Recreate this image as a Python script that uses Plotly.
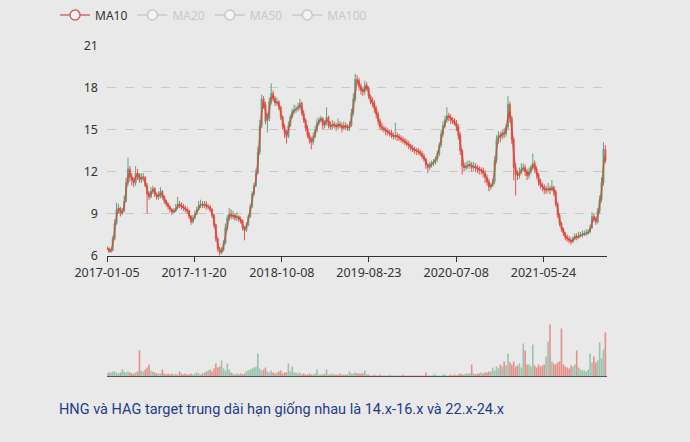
import pandas as pd
import plotly.graph_objects as go

# ---------------- data (weekly candles) ----------------
start_date = "2017-01-05"

close = [
    6.5, 6.3, 6.4, 7.2, 8.3, 9.3, 9.4, 9.0, 9.2, 9.9,
    11.2, 12.2, 11.6, 11.4, 11.2, 11.9, 11.8, 11.4, 11.6, 11.6,
    11.0, 10.4, 10.2, 10.6, 10.8, 10.4, 10.2, 10.3, 10.6, 10.2,
    9.9, 9.7, 9.5, 9.3, 9.1, 9.2, 9.4, 9.7, 9.6, 9.5,
    9.4, 9.3, 9.2, 8.8, 8.4, 8.7, 9.0, 9.3, 9.6, 9.7,
    9.6, 9.7, 9.5, 9.5, 9.3, 8.9, 8.2, 7.2, 6.5, 6.2,
    6.4, 6.9, 8.0, 8.7, 9.0, 8.8, 8.9, 8.7, 8.8, 8.6,
    8.5, 8.0, 7.8, 8.2, 8.8, 9.5, 10.4, 11.0, 11.9, 13.4,
    15.3, 17.2, 16.8, 15.6, 15.8, 17.0, 17.6, 17.2, 16.9, 17.0,
    16.6, 15.9, 15.2, 14.8, 14.5, 15.3, 15.9, 16.3, 16.4, 16.5,
    16.6, 16.9, 16.2, 15.7, 15.1, 14.6, 14.3, 14.1, 14.5, 15.0,
    15.5, 15.7, 15.8, 15.3, 15.5, 15.9, 15.3, 15.2, 15.4, 15.3,
    15.2, 15.4, 15.3, 15.1, 15.3, 15.2, 15.1, 15.3, 16.2, 17.2,
    18.6, 18.5, 18.1, 17.8, 17.7, 18.2, 18.0, 17.4, 17.0, 16.9,
    16.5, 16.1, 15.6, 15.2, 15.1, 15.0, 14.9, 14.8, 14.8, 14.6,
    14.5, 14.6, 14.5, 14.4, 14.3, 14.2, 14.1, 14.0, 13.9, 13.7,
    13.6, 13.5, 13.5, 13.4, 13.3, 13.1, 12.9, 12.5, 12.3, 12.5,
    12.6, 12.7, 12.9, 13.3, 13.9, 14.7, 15.3, 15.7, 16.0, 15.9,
    15.7, 15.6, 15.5, 15.2, 14.6, 13.5, 12.4, 12.3, 12.4, 12.5,
    12.5, 12.3, 12.4, 12.3, 12.2, 12.1, 12.1, 11.9, 11.6, 11.3,
    10.9, 11.0, 11.3, 12.8, 14.3, 14.6, 14.5, 14.8, 14.7, 15.2,
    16.8, 15.8, 14.3, 12.3, 11.8, 11.7, 12.0, 12.2, 12.3, 12.0,
    11.7, 12.0, 12.3, 12.6, 12.2, 11.8, 11.3, 11.0, 10.9, 10.7,
    10.7, 10.8, 10.7, 10.9, 10.6, 9.7, 8.9, 8.3, 7.9, 7.6,
    7.3, 7.2, 7.1, 7.0, 7.2, 7.4, 7.3, 7.4, 7.5, 7.5,
    7.6, 7.6, 7.7, 8.0, 8.8, 8.6, 8.4, 9.2, 10.0, 11.2,
    13.6, 12.8,
]

open_ = [
    6.6, 6.5, 6.3, 6.4, 7.2, 8.3, 9.3, 9.4, 9.0, 9.2,
    9.9, 11.2, 12.2, 11.6, 11.4, 11.2, 11.9, 11.8, 11.4, 11.6,
    11.6, 11.0, 10.4, 10.2, 10.6, 10.8, 10.4, 10.2, 10.3, 10.6,
    10.2, 9.9, 9.7, 9.5, 9.3, 9.1, 9.2, 9.4, 9.7, 9.6,
    9.5, 9.4, 9.3, 9.2, 8.8, 8.4, 8.7, 9.0, 9.3, 9.6,
    9.7, 9.6, 9.7, 9.5, 9.5, 9.3, 8.9, 8.2, 7.2, 6.5,
    6.2, 6.4, 6.9, 8.0, 8.7, 9.0, 8.8, 8.9, 8.7, 8.8,
    8.6, 8.5, 8.0, 7.8, 8.2, 8.8, 9.5, 10.4, 11.0, 11.9,
    13.4, 15.3, 17.2, 16.8, 15.6, 15.8, 17.0, 17.6, 17.2, 16.9,
    17.0, 16.6, 15.9, 15.2, 14.8, 14.5, 15.3, 15.9, 16.3, 16.4,
    16.5, 16.6, 16.9, 16.2, 15.7, 15.1, 14.6, 14.3, 14.1, 14.5,
    15.0, 15.5, 15.7, 15.8, 15.3, 15.5, 15.9, 15.3, 15.2, 15.4,
    15.3, 15.2, 15.4, 15.3, 15.1, 15.3, 15.2, 15.1, 15.3, 16.2,
    17.2, 18.6, 18.5, 18.1, 17.8, 17.7, 18.2, 18.0, 17.4, 17.0,
    16.9, 16.5, 16.1, 15.6, 15.2, 15.1, 15.0, 14.9, 14.8, 14.8,
    14.6, 14.5, 14.6, 14.5, 14.4, 14.3, 14.2, 14.1, 14.0, 13.9,
    13.7, 13.6, 13.5, 13.5, 13.4, 13.3, 13.1, 12.9, 12.5, 12.3,
    12.5, 12.6, 12.7, 12.9, 13.3, 13.9, 14.7, 15.3, 15.7, 16.0,
    15.9, 15.7, 15.6, 15.5, 15.2, 14.6, 13.5, 12.4, 12.3, 12.4,
    12.5, 12.5, 12.3, 12.4, 12.3, 12.2, 12.1, 12.1, 11.9, 11.6,
    11.3, 10.9, 11.0, 11.3, 12.8, 14.3, 14.6, 14.5, 14.8, 14.7,
    15.2, 16.8, 15.8, 14.3, 12.3, 11.8, 11.7, 12.0, 12.2, 12.3,
    12.0, 11.7, 12.0, 12.3, 12.6, 12.2, 11.8, 11.3, 11.0, 10.9,
    10.7, 10.7, 10.8, 10.7, 10.9, 10.6, 9.7, 8.9, 8.3, 7.9,
    7.6, 7.3, 7.2, 7.1, 7.0, 7.2, 7.4, 7.3, 7.4, 7.5,
    7.5, 7.6, 7.6, 7.7, 8.0, 8.8, 8.6, 8.4, 9.2, 10.0,
    11.2, 13.6,
]

high = [
    6.7, 6.6, 6.5, 7.4, 8.6, 9.8, 9.7, 9.5, 9.4, 10.3,
    11.6, 13.0, 12.4, 11.9, 11.6, 12.4, 12.2, 11.9, 11.9, 11.9,
    11.7, 11.2, 10.6, 10.9, 11.0, 10.9, 10.5, 10.6, 10.9, 10.7,
    10.3, 10.0, 9.8, 9.6, 9.4, 9.4, 9.7, 10.2, 9.9, 9.8,
    9.7, 9.6, 9.5, 9.3, 8.9, 8.9, 9.2, 9.5, 9.9, 10.0,
    9.9, 9.9, 9.9, 9.7, 9.6, 9.4, 9.0, 8.3, 7.3, 6.6,
    6.6, 7.1, 8.3, 8.9, 9.4, 9.3, 9.2, 9.0, 9.1, 8.9,
    8.8, 8.6, 8.1, 8.4, 9.0, 9.7, 10.6, 11.2, 12.2, 13.8,
    15.7, 17.5, 17.4, 17.0, 16.2, 17.3, 18.3, 17.8, 17.4, 17.3,
    17.1, 16.7, 16.0, 15.4, 15.0, 15.6, 16.1, 16.5, 16.8, 16.7,
    16.9, 17.2, 17.0, 16.4, 15.8, 15.3, 14.8, 14.5, 14.8, 15.3,
    15.8, 15.9, 16.0, 15.9, 15.7, 16.6, 16.0, 15.6, 15.7, 15.6,
    15.5, 15.8, 15.6, 15.5, 15.6, 15.5, 15.4, 15.6, 16.5, 17.6,
    19.0, 18.9, 18.7, 18.3, 18.0, 18.5, 18.4, 18.1, 17.5, 17.3,
    17.1, 16.7, 16.3, 15.8, 15.5, 15.3, 15.2, 15.1, 15.0, 15.0,
    14.8, 15.5, 14.8, 14.7, 14.6, 14.5, 14.4, 14.3, 14.2, 14.0,
    13.9, 13.8, 13.7, 13.7, 13.6, 13.5, 13.3, 13.0, 12.6, 12.7,
    12.8, 12.9, 13.1, 13.5, 14.1, 15.0, 15.6, 16.0, 16.6, 16.2,
    16.1, 15.9, 15.8, 15.7, 15.4, 14.8, 13.6, 12.6, 12.7, 12.8,
    12.8, 12.7, 12.7, 12.6, 12.5, 12.4, 12.3, 12.3, 12.1, 11.8,
    11.5, 11.2, 11.5, 13.1, 14.6, 14.9, 14.8, 15.0, 15.1, 15.4,
    17.4, 17.0, 16.0, 14.5, 12.6, 12.1, 12.3, 12.6, 12.6, 12.5,
    12.2, 12.3, 12.5, 13.3, 12.8, 12.4, 11.9, 11.5, 11.2, 11.1,
    11.0, 11.2, 11.0, 11.4, 11.0, 10.7, 9.8, 9.0, 8.4, 8.0,
    7.7, 7.5, 7.4, 7.3, 7.4, 7.6, 7.6, 7.7, 7.7, 7.8,
    7.8, 7.9, 7.9, 8.2, 9.1, 9.0, 8.8, 9.4, 10.3, 11.6,
    14.1, 13.9,
]

low = [
    6.4, 6.2, 6.2, 6.3, 7.1, 8.2, 9.0, 8.8, 8.9, 9.1,
    9.8, 11.0, 11.3, 11.0, 10.9, 11.0, 11.4, 11.2, 11.2, 11.3,
    10.9, 9.0, 10.0, 10.1, 10.4, 10.2, 10.0, 10.0, 10.1, 10.0,
    9.7, 9.5, 9.3, 9.1, 8.9, 9.0, 9.1, 9.3, 9.4, 9.3,
    9.2, 9.1, 9.0, 8.6, 8.2, 8.3, 8.6, 8.9, 9.2, 9.4,
    9.4, 9.4, 9.3, 9.3, 9.1, 8.7, 8.0, 7.0, 6.3, 6.0,
    6.1, 6.3, 6.8, 7.8, 8.5, 8.6, 8.6, 8.5, 8.5, 8.4,
    8.3, 7.8, 7.1, 7.7, 8.1, 8.7, 9.4, 10.3, 10.9, 11.8,
    13.2, 15.1, 16.5, 15.4, 14.8, 15.6, 16.8, 17.0, 16.7, 16.7,
    16.4, 15.7, 15.0, 14.4, 14.0, 14.4, 15.2, 15.8, 16.1, 16.2,
    16.3, 16.4, 16.0, 15.5, 14.9, 14.4, 14.0, 13.6, 13.9, 14.4,
    14.8, 15.3, 15.5, 15.0, 15.1, 15.3, 15.1, 15.0, 15.0, 15.1,
    14.9, 15.0, 15.1, 14.8, 15.0, 15.0, 14.9, 14.9, 15.2, 16.0,
    17.0, 18.2, 17.8, 17.5, 17.4, 17.5, 17.8, 17.2, 16.8, 16.6,
    16.2, 15.8, 15.3, 15.0, 14.9, 14.8, 14.6, 14.6, 14.5, 14.4,
    14.3, 14.3, 14.2, 14.2, 14.1, 14.0, 13.9, 13.8, 13.6, 13.5,
    13.4, 13.3, 13.2, 13.2, 13.1, 12.9, 12.7, 12.2, 11.9, 12.1,
    12.3, 12.4, 12.5, 12.7, 13.1, 13.7, 14.5, 15.1, 15.5, 15.6,
    15.4, 15.4, 15.3, 14.9, 14.3, 13.2, 11.8, 12.0, 12.1, 12.2,
    12.2, 12.0, 12.1, 12.0, 11.9, 11.8, 11.8, 11.6, 11.2, 11.0,
    10.6, 10.7, 10.9, 11.1, 12.6, 14.0, 14.1, 14.3, 14.4, 14.5,
    15.0, 15.5, 14.0, 11.4, 10.3, 11.4, 11.5, 11.8, 12.0, 11.7,
    11.4, 11.5, 11.8, 12.1, 11.9, 11.5, 11.0, 10.8, 10.6, 10.4,
    10.4, 10.5, 10.4, 10.6, 10.3, 9.5, 8.7, 8.1, 7.7, 7.4,
    7.1, 7.0, 6.9, 6.8, 6.9, 7.1, 7.1, 7.2, 7.3, 7.3,
    7.4, 7.4, 7.5, 7.6, 7.9, 8.4, 8.2, 8.3, 9.0, 9.8,
    11.0, 12.6,
]

volume = [
    3, 4, 4, 5, 5, 4, 3, 4, 7, 5,
    4, 5, 4, 3, 3, 4, 5, 26, 6, 5,
    7, 9, 12, 6, 5, 4, 3, 3, 3, 7,
    3, 2, 3, 2, 3, 2, 3, 2, 5, 3,
    2, 3, 2, 2, 3, 2, 3, 4, 3, 2,
    3, 4, 5, 6, 7, 5, 8, 13, 9, 10,
    16, 8, 6, 13, 7, 4, 3, 2, 3, 2,
    3, 2, 3, 5, 6, 7, 8, 9, 10, 23,
    8, 6, 7, 9, 5, 4, 6, 4, 3, 4,
    5, 6, 3, 4, 4, 13, 5, 10, 4, 4,
    3, 4, 2, 3, 2, 2, 3, 2, 2, 3,
    7, 2, 2, 2, 3, 7, 2, 2, 3, 2,
    2, 2, 3, 2, 2, 2, 2, 5, 3, 3,
    4, 3, 3, 3, 3, 6, 2, 2, 1, 1,
    2, 1, 1, 2, 1, 1, 1, 1, 2, 1,
    1, 1, 1, 1, 1, 2, 1, 1, 1, 1,
    1, 1, 1, 1, 1, 1, 1, 4, 1, 1,
    1, 2, 2, 1, 1, 1, 2, 2, 1, 1,
    2, 1, 2, 1, 2, 3, 2, 2, 3, 3,
    3, 12, 3, 2, 3, 3, 4, 3, 4, 4,
    5, 5, 9, 6, 10, 8, 12, 10, 15, 11,
    23, 14, 12, 15, 10, 11, 13, 9, 33, 26,
    12, 12, 10, 32, 11, 9, 12, 10, 11, 12,
    20, 35, 52, 15, 13, 12, 14, 15, 48, 12,
    10, 9, 8, 11, 10, 12, 26, 9, 7, 6,
    6, 5, 7, 23, 14, 20, 14, 16, 34, 18,
    27, 44,
]

tick_labels = ["2017-01-05", "2017-11-20", "2018-10-08",
               "2019-08-23", "2020-07-08", "2021-05-24"]
axis_end = "2022-01-12"
price_ticks = [6, 9, 12, 15, 18, 21]
ma_names = ["MA10", "MA20", "MA50", "MA100"]
ma_days = [10, 20, 50, 100]
caption = "HNG và HAG target trung dài hạn giống nhau là 14.x-16.x và 22.x-24.x"

# ---------------- build ----------------
n = len(close)
assert len(open_) == n and len(high) == n and len(low) == n and len(volume) == n
dates = pd.date_range(start_date, periods=n, freq="7D")
df = pd.DataFrame({"date": dates, "open": open_, "high": high,
                   "low": low, "close": close, "volume": volume})

UP = "#5aa67c"
DOWN = "#e2574c"
BG = "#e9e9e9"
FONT = "Noto Sans"

fig = go.Figure()

fig.add_trace(go.Candlestick(
    x=df["date"], open=df["open"], high=df["high"], low=df["low"], close=df["close"],
    increasing=dict(line=dict(color=UP, width=1), fillcolor=UP),
    decreasing=dict(line=dict(color=DOWN, width=1), fillcolor=DOWN),
    whiskerwidth=0, showlegend=False, name="K",
))

ma_colors = ["#d9453c", "#aaaaaa", "#aaaaaa", "#aaaaaa"]
for name, days, col in zip(ma_names, ma_days, ma_colors):
    win = max(1, days // 5)  # weekly candles: 5 trading days per candle
    ma = df["close"].rolling(win, min_periods=1).mean()
    active = name == "MA10"
    fig.add_trace(go.Scatter(
        x=df["date"], y=ma, mode="lines+markers",
        name=name if active else f"<span style='color:#a8a8a8'>{name}</span>",
        line=dict(color=col, width=1.4),
        marker=dict(size=10, color="white", line=dict(color=col, width=1.5)),
        selectedpoints=[], unselected=dict(marker=dict(opacity=0)),
        opacity=0.85 if active else 1,
        visible=True if active else "legendonly",
    ))

vol_colors = ["rgba(90,166,124,0.55)" if c >= o else "rgba(226,87,76,0.6)"
              for o, c in zip(df["open"], df["close"])]
fig.add_trace(go.Bar(
    x=df["date"], y=df["volume"], marker=dict(color=vol_colors, line=dict(width=0)),
    xaxis="x2", yaxis="y2", showlegend=False, name="Volume",
))

W, H = 690, 442
x0, x1 = 107 / W, 607 / W
fig.update_layout(
    width=W, height=H, autosize=False,
    margin=dict(l=0, r=0, t=0, b=0, autoexpand=False),
    paper_bgcolor=BG, plot_bgcolor=BG,
    font=dict(family=FONT, size=12.5, color="#333"),
    bargap=0.15,
    showlegend=True,
    legend=dict(orientation="h", x=55 / W, xanchor="left", y=1 - 15 / H, yanchor="middle",
                bgcolor="rgba(0,0,0,0)", font=dict(size=12, color="#333"),
                itemclick=False),
    xaxis=dict(domain=[x0, x1], type="date", range=[start_date, axis_end],
               tickvals=tick_labels, ticktext=tick_labels, automargin=False,
               showgrid=False, showline=True, linecolor="#333", linewidth=1,
               ticks="outside", ticklen=5, tickcolor="#333",
               rangeslider=dict(visible=False), anchor="y", zeroline=False),
    yaxis=dict(domain=[1 - 255.7 / H, 1 - 45.7 / H], range=[6, 21], automargin=False,
               tickvals=price_ticks, showgrid=True, gridcolor="#c9c9c9",
               griddash="dash", gridwidth=1, zeroline=False, showline=False,
               ticks="", ticklabelstandoff=8, anchor="x"),
    xaxis2=dict(domain=[x0, x1], type="date", range=[start_date, axis_end],
                matches="x", showticklabels=False, ticks="", showgrid=False, automargin=False,
                showline=True, linecolor="#555", linewidth=1, anchor="y2", zeroline=False),
    yaxis2=dict(domain=[1 - 376.4 / H, 1 - 316.4 / H], range=[0, 60], automargin=False,
                showticklabels=False, showgrid=False, zeroline=False, showline=False,
                anchor="x2"),
    annotations=[dict(text=caption, x=57 / W, y=1 - 409 / H, xref="paper", yref="paper",
                      xanchor="left", yanchor="middle", showarrow=False,
                      font=dict(family="Roboto", size=14.5, color="#1c3c8e"))],
)

fig.write_html(
    "out.html",
    config={"displayModeBar": False},
    post_script=("document.body.style.margin='0';"
                 "document.body.style.overflow='hidden';"
                 f"document.body.style.background='{BG}';"),
)
